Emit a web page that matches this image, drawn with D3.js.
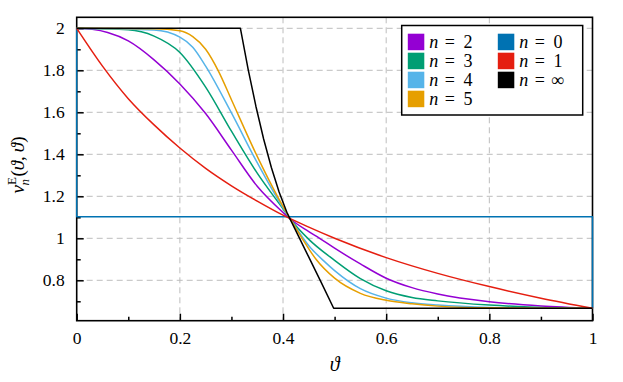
<!DOCTYPE html>
<html><head><meta charset="utf-8">
<script src="https://cdn.jsdelivr.net/npm/d3@7"></script>
<style>body{margin:0;background:#fff}svg{display:block}
svg text{font-family:"Liberation Serif","Times New Roman",Tinos,"DejaVu Serif","Noto Serif",serif !important}</style>
</head><body><svg id="c" width="623" height="382"></svg>
<script>
// ---- data ----
const thetaN1 = [0,0.05,0.1,0.15,0.2,0.25,0.3,0.35,0.4,0.45,0.5,0.6,0.7,0.8,0.9,1];
const valsN1  = [2,1.82,1.665,1.54,1.43,1.333,1.25,1.177,1.11,1.053,1.0,0.908,0.833,0.77,0.715,0.667];
const thetaN2 = [0,0.03,0.06,0.1,0.15,0.2,0.25,0.3,0.35,0.4,0.414,0.45,0.471,0.5,0.55,0.6,0.65,0.7,0.8,0.9,1];
const valsN2  = [2,1.995,1.98,1.94,1.85,1.735,1.594,1.42,1.248,1.123,1.092,1.032,1.0,0.953,0.878,0.81,0.765,0.735,0.698,0.678,0.667];
const thetaN3 = [0,0.1,0.15,0.2,0.25,0.3,0.35,0.4,0.414,0.45,0.5,0.55,0.6,0.65,0.7,0.8,0.9,1];
const valsN3  = [2,1.993,1.963,1.885,1.72,1.51,1.31,1.14,1.092,0.995,0.895,0.808,0.75,0.718,0.702,0.682,0.671,0.667];
const thetaN4 = [0,0.15,0.2,0.225,0.25,0.3,0.35,0.4,0.414,0.45,0.48,0.5,0.55,0.6,0.65,0.7,0.8,0.9,1];
const valsN4  = [2,1.992,1.958,1.91,1.82,1.597,1.36,1.145,1.092,0.965,0.89,0.846,0.76,0.715,0.693,0.682,0.671,0.668,0.667];
const thetaN5 = [0,0.15,0.2,0.225,0.25,0.275,0.3,0.35,0.39,0.414,0.437,0.464,0.5,0.55,0.6,0.65,0.7,0.8,1];
const valsN5  = [2,1.998,1.988,1.96,1.9,1.795,1.66,1.39,1.196,1.092,1.0,0.9,0.81,0.738,0.705,0.688,0.677,0.669,0.667];
const thetaN0 = [0,0,1,1];
const valsN0  = [2,1.103,1.103,0.667];
const thetaInf = [0,0.3174,0.3324,0.3474,0.3624,0.3774,0.3924,0.4074,0.4138,0.429,0.45,0.474,0.4982,1];
const valsInf  = [2,2,1.804,1.629,1.473,1.337,1.22,1.124,1.091,1.015,0.91,0.79,0.667,0.667];

const seriesLabels = ["2","3","4","5","0","1","∞"];
const seriesColors = ["#9400d3","#009e73","#56b4e9","#e69f00","#0072b2","#e51e10","#000000"];
const xMajorTicks = [0,0.2,0.4,0.6,0.8,1];
const xMinorTicks = [0.1,0.3,0.5,0.7,0.9];
const yMajorTicks = [0.8,1,1.2,1.4,1.6,1.8,2];
const yMinorTicks = [0.7,0.9,1.1,1.3,1.5,1.7,1.9];

const series = [
  {th:thetaN2, v:valsN2, smooth:true},
  {th:thetaN3, v:valsN3, smooth:true},
  {th:thetaN4, v:valsN4, smooth:true},
  {th:thetaN5, v:valsN5, smooth:true},
  {th:thetaN0, v:valsN0, smooth:false},
  {th:thetaN1, v:valsN1, smooth:true},
  {th:thetaInf, v:valsInf, smooth:false}
];

// ---- layout ----
const L=76.7, R=592.5, T=17.3, B=320.7;
const svg = d3.select("#c");
const x = d3.scaleLinear().domain([0,1]).range([L,R]);
const y = d3.scaleLinear().domain([0.6076,2.0524]).range([B,T]);

// grid
const grid = svg.append("g").attr("stroke","#bdbdbd").attr("stroke-width",1).attr("stroke-dasharray","6,4");
grid.selectAll("line.gx").data(xMajorTicks.filter(d=>d>0&&d<1)).join("line")
  .attr("x1",d=>x(d)).attr("x2",d=>x(d)).attr("y1",T).attr("y2",B);
grid.selectAll("line.gy").data(yMajorTicks).join("line")
  .attr("x1",L).attr("x2",R).attr("y1",d=>y(d)).attr("y2",d=>y(d));

// frame
svg.append("rect").attr("x",L).attr("y",T).attr("width",R-L).attr("height",B-T)
  .attr("fill","none").attr("stroke","#000").attr("stroke-width",1.6);

// axes
const fs = 17.5;
const gx = svg.append("g").attr("transform",`translate(0,${B})`)
  .call(d3.axisBottom(x).tickValues(xMajorTicks).tickSize(-7).tickPadding(11).tickFormat(d=>d3.format("")(d)));
const gx2 = svg.append("g").attr("transform",`translate(0,${B})`)
  .call(d3.axisBottom(x).tickValues(xMinorTicks).tickSize(-4).tickFormat(""));
const gy = svg.append("g").attr("transform",`translate(${L},0)`)
  .call(d3.axisLeft(y).tickValues(yMajorTicks).tickSize(-7).tickPadding(12).tickFormat(d=>d3.format("")(d)));
const gy2 = svg.append("g").attr("transform",`translate(${L},0)`)
  .call(d3.axisLeft(y).tickValues(yMinorTicks).tickSize(-4).tickFormat(""));
[gx,gx2,gy,gy2].forEach(g=>{
  g.attr("font-family",null).attr("font-size",null);
  g.select(".domain").remove();
  g.selectAll(".tick line").attr("stroke","#000").attr("stroke-width",1.5);
  g.selectAll("text").attr("font-size",fs).attr("fill","#000");
});

// curves
series.forEach((s,i)=>{
  const pts = s.th.map((t,k)=>[t,s.v[k]]);
  const line = d3.line().x(d=>x(d[0])).y(d=>y(d[1])).curve(s.smooth?d3.curveMonotoneX:d3.curveLinear);
  svg.append("path").attr("d",line(pts)).attr("fill","none")
    .attr("stroke",seriesColors[i]).attr("stroke-width",1.5).attr("stroke-linejoin","round");
});

// axis titles
svg.append("text").attr("x",(L+R)/2).attr("y",371).attr("text-anchor","middle")
  .attr("font-size",20).attr("font-style","italic").text("ϑ");
const yl = svg.append("text").attr("transform","translate(24,165) rotate(-90)")
  .attr("text-anchor","middle").attr("font-size",19);
yl.append("tspan").attr("font-style","italic").text("v");
yl.append("tspan").attr("font-size",13).attr("dy",-8).text("E");
yl.append("tspan").attr("font-size",13).attr("font-style","italic").attr("dx",-8.5).attr("dy",13).text("n");
yl.append("tspan").attr("dx",2.5).attr("dy",-5).text("(");
yl.append("tspan").attr("font-style","italic").text("ϑ");
yl.append("tspan").text(",");
yl.append("tspan").attr("font-style","italic").attr("dx",4).text("ϑ");
yl.append("tspan").text(")");

// legend
const lg = svg.append("g");
lg.append("rect").attr("x",401.7).attr("y",25.5).attr("width",181).attr("height",89.5)
  .attr("fill","#fff").attr("stroke","#000").attr("stroke-width",1.5);
seriesLabels.forEach((lab,i)=>{
  const col = i<4?0:1, row = i<4?i:i-4;
  const sx = col===0?407.8:497.8, cy = 42+row*19;
  lg.append("rect").attr("x",sx).attr("y",cy-8.3).attr("width",16.5).attr("height",16.5)
    .attr("fill",seriesColors[i]);
  const t = lg.append("text").attr("x",sx+21.5).attr("y",cy+6.3).attr("font-size",18);
  t.append("tspan").attr("font-style","italic").text("n");
  t.append("tspan").attr("dx",6.5).text("=");
  t.append("tspan").attr("dx",lab==="∞"?6:8.5).text(lab);
});
</script></body></html>
